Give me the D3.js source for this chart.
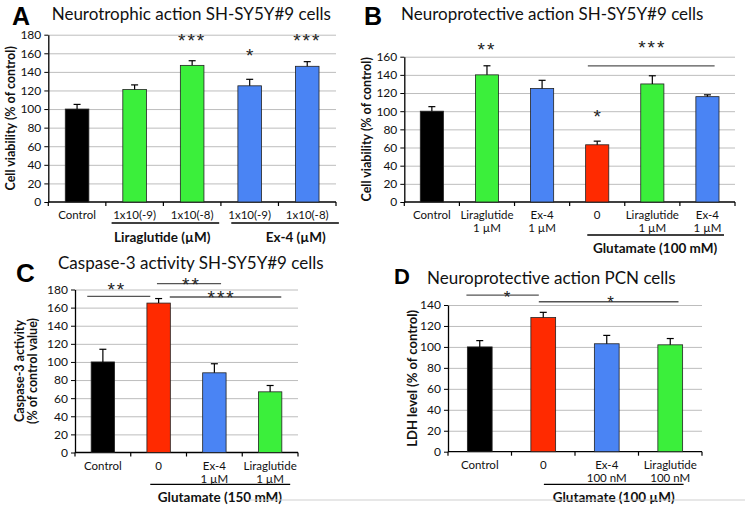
<!DOCTYPE html>
<html><head><meta charset="utf-8">
<script src="https://cdn.jsdelivr.net/npm/d3@7"></script>
<style>
body{margin:0;background:#fff}
text{font-family:Lato,"Open Sans",sans-serif;fill:#111}
.big{font-family:"Liberation Sans",Arial,sans-serif;font-weight:bold;fill:#000}
.star{font-family:"Liberation Sans",Arial,sans-serif;fill:#222}
</style></head><body>
<svg id="c" width="745" height="507"></svg>
<script>
// ---------- DATA ----------
// Panel A
const catsA = [["Control"],["1x10(-9)"],["1x10(-8)"],["1x10(-9)"],["1x10(-8)"]];
const valsA = [100,121,147,125,146];
const errA  = [5,5,5,7,5];
const colsA = ["black","green","green","blue","blue"];
const ticksA = [0,20,40,60,80,100,120,140,160,180];
const groupsA = [{from:1.10,to:2.97,label:"Liraglutide (µM)",at:1.98},{from:3.18,to:5.05,label:"Ex-4 (µM)",at:4.30}];
const sigA = [{text:"***",at:2.5,v:179.6},{text:"*",at:3.5,v:163.5},{text:"***",at:4.5,v:179.6}];
const linesA = [];
// Panel B
const catsB = [["Control"],["Liraglutide","1 µM"],["Ex-4","1 µM"],["0"],["Liraglutide","1 µM"],["Ex-4","1 µM"]];
const valsB = [100,140,125,63,130,116];
const errB  = [5,10,9,4,9,2];
const colsB = ["black","green","blue","red","green","blue"];
const ticksB = [0,20,40,60,80,100,120,140,160];
const groupsB = [{from:3.32,to:5.80,label:"Glutamate (100 mM)",at:4.55}];
const sigB = [{text:"**",at:1.5,v:174},{text:"***",at:4.5,v:176},{text:"*",at:3.5,v:100.5}];
const linesB = [{from:3.33,to:5.63,v:150}];
// Panel C
const catsC = [["Control"],["0"],["Ex-4","1 µM"],["Liraglutide","1 µM"]];
const valsC = [100,165,88,67];
const errC  = [14,5,10,7];
const colsC = ["black","red","blue","green"];
const ticksC = [0,20,40,60,80,100,120,140,160,180];
const groupsC = [{from:1.35,to:3.86,label:"Glutamate (150 mM)",at:2.60}];
const sigC = [{text:"**",at:0.75,v:185.3},{text:"**",at:2.09,v:191.6},{text:"***",at:2.63,v:177.2}];
const linesC = [{from:0.22,to:1.35,v:172.3},{from:1.47,to:2.62,v:186.4},{from:1.70,to:3.70,v:171.7}];
// Panel D
const catsD = [["Control"],["0"],["Ex-4","100 nM"],["Liraglutide","100 nM"]];
const valsD = [100,128,103,102];
const errD  = [6,5,8,6];
const colsD = ["black","red","blue","green"];
const ticksD = [0,20,40,60,80,100,120,140];
const groupsD = [{from:1.51,to:3.71,label:"Glutamate (100 µM)",at:2.61}];
const sigD = [{text:"*",at:0.93,v:152.2},{text:"*",at:2.56,v:147.3}];
const linesD = [{from:0.29,to:1.43,v:149.5},{from:1.43,to:3.63,v:143.1}];

// ---------- STYLE / LAYOUT ----------
const palette = {black:"#000000",green:"#3bef3b",blue:"#4a84f4",red:"#ff2a00"};
const svg = d3.select("#c");

function panel(o){
  const g = svg.append("g");
  const n = o.cats.length;
  const step = (o.x1-o.x0)/n;
  const ux = u => o.x0 + u*step;
  const y = d3.scaleLinear().domain([0,o.ymax]).range([o.yBot,o.yTop]);
  // grid
  g.selectAll(".grid").data(o.ticks.filter(t=>t>0)).enter().append("line")
    .attr("x1",o.x0).attr("x2",o.x1).attr("y1",d=>y(d)+0.5).attr("y2",d=>y(d)+0.5)
    .attr("stroke","#bdbdbd").attr("stroke-width",1);
  // y axis
  const ya = g.append("g").attr("transform",`translate(${o.x0},0)`)
    .call(d3.axisLeft(y).tickValues(o.ticks).tickSize(4).tickSizeOuter(0));
  ya.select(".domain").attr("stroke","#000").attr("stroke-width",1.3);
  ya.selectAll(".tick line").attr("stroke","#000");
  ya.selectAll(".tick text").attr("font-size",12).attr("x",-7).style("font-family","Lato,sans-serif").attr("fill","#111");
  // x axis line + band boundary ticks
  g.append("line").attr("x1",o.x0).attr("x2",o.x1).attr("y1",o.yBot).attr("y2",o.yBot).attr("stroke","#000").attr("stroke-width",1.3);
  g.selectAll(".xt").data(d3.range(n+1)).enter().append("line")
    .attr("x1",d=>ux(d)).attr("x2",d=>ux(d)).attr("y1",o.yBot).attr("y2",o.yBot+4).attr("stroke","#000").attr("stroke-width",1.2);
  // bars
  const bw = step*o.bwr;
  g.selectAll(".bar").data(o.vals).enter().append("rect")
    .attr("x",(d,i)=>ux(i+0.5)-bw/2).attr("width",bw)
    .attr("y",d=>y(d)).attr("height",d=>o.yBot-y(d))
    .attr("fill",(d,i)=>palette[o.cols[i]]).attr("stroke","#222").attr("stroke-width",0.8);
  // error bars
  const eb = g.selectAll(".err").data(o.vals).enter().append("g");
  eb.append("line").attr("x1",(d,i)=>ux(i+0.5)).attr("x2",(d,i)=>ux(i+0.5))
    .attr("y1",d=>y(d)).attr("y2",(d,i)=>y(d+o.err[i])).attr("stroke","#000").attr("stroke-width",1.2);
  eb.append("line").attr("x1",(d,i)=>ux(i+0.5)-3.5).attr("x2",(d,i)=>ux(i+0.5)+3.5)
    .attr("y1",(d,i)=>y(d+o.err[i])).attr("y2",(d,i)=>y(d+o.err[i])).attr("stroke","#000").attr("stroke-width",1.2);
  // category labels
  o.cats.forEach((c,i)=>{
    c.forEach((s,k)=>{
      g.append("text").attr("x",ux(i+0.5)).attr("y",o.yBot+17+k*13).attr("text-anchor","middle")
        .attr("font-size",11.5).text(s);
    });
  });
  // groups
  o.groups.forEach(gr=>{
    g.append("line").attr("x1",ux(gr.from)).attr("x2",ux(gr.to)).attr("y1",o.gy).attr("y2",o.gy).attr("stroke","#000").attr("stroke-width",1.3);
    g.append("text").attr("x",ux(gr.at)).attr("y",o.gy+o.gdy).attr("text-anchor","middle")
      .attr("font-size",13.5).attr("font-weight","bold").text(gr.label);
  });
  // sig lines
  o.lines.forEach(l=>{
    g.append("line").attr("x1",ux(l.from)).attr("x2",ux(l.to)).attr("y1",y(l.v)).attr("y2",y(l.v)).attr("stroke","#555").attr("stroke-width",1.3);
  });
  o.sig.forEach(s=>{
    g.append("text").attr("class","star").attr("x",ux(s.at)).attr("y",y(s.v)).attr("dy","0.62em")
      .attr("text-anchor","middle").attr("font-size",o.sfs||19).attr("letter-spacing",s.text.length>1?2:0).text(s.text);
  });
  // y label
  o.ylab.forEach((s,k)=>{
    g.append("text").attr("transform",`translate(${o.ylx[k]},${(o.yTop+o.yBot)/2})rotate(-90)`)
      .attr("text-anchor","middle").attr("dy","0.35em").attr("font-size",o.ylfs).attr("font-weight","bold").text(s);
  });
  // title
  g.append("text").attr("class","big").attr("x",o.lx).attr("y",o.ly).attr("font-size",o.lfs).text(o.letter);
  g.append("text").attr("x",o.tx).attr("y",o.ty).attr("font-size",17).attr("fill","#111").text(o.title);
}

panel({cats:catsA,vals:valsA,err:errA,cols:colsA,ticks:ticksA,groups:groupsA,sig:sigA,lines:linesA,
  x0:48.3,x1:336,yTop:34.7,yBot:202,ymax:180,bwr:0.41,gy:223,gdy:19,
  ylab:["Cell viability (% of control)"],ylx:[11],ylfs:12.5,
  letter:"A",lx:12,ly:25,lfs:25,title:"Neurotrophic action SH-SY5Y#9 cells",tx:51.7,ty:20});
panel({cats:catsB,vals:valsB,err:errB,cols:colsB,ticks:ticksB,groups:groupsB,sig:sigB,lines:linesB,
  x0:404.3,x1:735,yTop:56.7,yBot:202,ymax:160,bwr:0.42,gy:235,gdy:18,
  ylab:["Cell viability (% of control)"],ylx:[366.5],ylfs:12.5,
  letter:"B",lx:364,ly:25,lfs:25,title:"Neuroprotective action SH-SY5Y#9 cells",tx:401,ty:20});
panel({cats:catsC,vals:valsC,err:errC,cols:colsC,ticks:ticksC,groups:groupsC,sig:sigC,lines:linesC,
  x0:75,x1:298,yTop:289.5,yBot:452.5,ymax:180,bwr:0.42,gy:484.3,gdy:18,
  ylab:["Caspase-3 activity","(% of control value)"],ylx:[20,33],ylfs:12.5,
  letter:"C",lx:16,ly:282,lfs:26,title:"Caspase-3 activity SH-SY5Y#9 cells",tx:58,ty:269});
panel({cats:catsD,vals:valsD,err:errD,cols:colsD,ticks:ticksD,groups:groupsD,sig:sigD,lines:linesD,
  x0:448,x1:702,yTop:305,yBot:451.7,ymax:140,bwr:0.39,gy:484.3,gdy:18,sfs:17,
  ylab:["LDH level (% of control)"],ylx:[412],ylfs:13,
  letter:"D",lx:394,ly:284,lfs:22,title:"Neuroprotective action PCN cells",tx:427,ty:283.5});
// frame line at bottom
svg.append("line").attr("x1",248).attr("x2",745).attr("y1",500).attr("y2",500).attr("stroke","#cfcfcf").attr("stroke-width",1.2);
</script>
</body></html>
